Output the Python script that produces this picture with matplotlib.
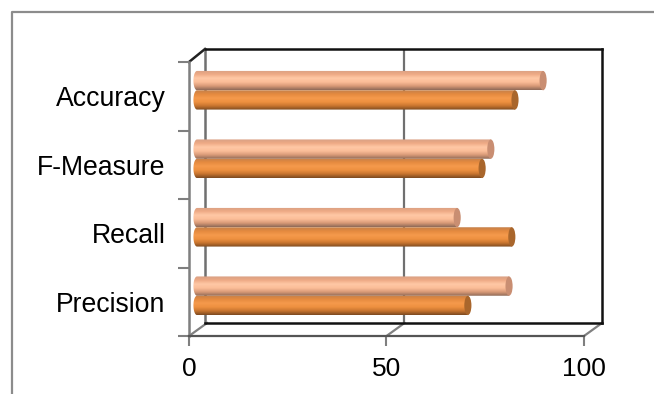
import numpy as np
import matplotlib
matplotlib.use('Agg')
import matplotlib.pyplot as plt
from matplotlib.path import Path
from matplotlib.patches import Ellipse, PathPatch
from matplotlib.colors import LinearSegmentedColormap

categories = ['Precision', 'Recall', 'F-Measure', 'Accuracy']
series_light = [78.8, 65.7, 74.2, 87.4]
series_dark = [68.4, 79.5, 72.0, 80.3]
xticks = [0, 50, 100]

W, H = 654, 394
plt.rcParams['font.family'] = ['Liberation Sans', 'DejaVu Sans']
fig = plt.figure(figsize=(W / 100, H / 100), dpi=100)


def box(x0, y0, x1, y1):
    # pixel box, y measured from the top
    return [x0 / W, 1 - y1 / H, (x1 - x0) / W, (y1 - y0) / H]


# outer frame, only top and left show in the crop
frame = fig.add_axes([0, 0, 1, 1])
frame.set_xlim(0, W)
frame.set_ylim(H, 0)
frame.axis('off')
frame.plot([11.5, 11.5, W], [H, 12, 12], color='#8c8c8c', lw=1.6)

# back wall
wall = fig.add_axes(box(205, 49, 602, 323))
wall.set_xlim(0, 100)
wall.set_ylim(0, 4)
wall.patch.set_alpha(0)
wall.set_xticks([])
wall.set_yticks([])
for s in wall.spines.values():
    s.set_linewidth(1.8)
    s.set_color('#111111')
wall.spines['left'].set_color('#707070')
wall.axvline(50, color='#707070', lw=1.6)

# front plane with the tick labels
front = fig.add_axes(box(189, 62, 584, 336))
front.set_xlim(0, 100)
front.set_ylim(0, 4)
front.patch.set_alpha(0)
for s in ['top', 'right']:
    front.spines[s].set_visible(False)
front.spines['left'].set_color('#7f7f7f')
front.spines['left'].set_linewidth(1.8)
front.spines['bottom'].set_color('#555555')
front.spines['bottom'].set_linewidth(1.6)
front.set_xticks(xticks)
front.set_yticks(np.arange(0, 5))
front.set_yticklabels([])
front.set_yticks(np.arange(len(categories)) + 0.5, minor=True)
front.set_yticklabels(categories, minor=True)
front.tick_params(axis='x', length=7, width=1.5, color='#7f7f7f', labelsize=19, pad=8)
front.tick_params(axis='y', length=8, width=1.5, color='#7f7f7f')
front.tick_params(axis='y', which='minor', length=0, labelsize=19.2, pad=17)

# side wall and floor depth lines
frame.plot([189, 205], [62, 49], color='#222222', lw=1.8)
for v in xticks:
    px = 189 + v * (584 - 189) / 100
    frame.plot([px, px + 18], [336, 323], color='#808080', lw=1.6)

# bars sit half way through the depth
bars = fig.add_axes(box(197, 56, 593, 330))
bars.set_xlim(0, 100)
bars.set_ylim(0, 4)
bars.axis('off')

light_cm = LinearSegmentedColormap.from_list('l', ['#8f6a58', '#d99a78', '#fbbd98', '#ffc8a5', '#eeaa85', '#d8a084'])
dark_cm = LinearSegmentedColormap.from_list('d', ['#7c4a20', '#c7742f', '#ee9040', '#f59a4c', '#e58a3f', '#c4804a'])
grad = np.linspace(0, 1, 64).reshape(-1, 1)
bar_h = 0.282
cap = 0.9  # half width of the end ellipse in x units


def cylinder(y, value, cm, capcolor):
    y0, y1 = y, y + bar_h
    t = np.linspace(np.pi / 2, 3 * np.pi / 2, 30)
    xs = np.r_[value, cap * np.cos(t), value, value]
    ys = np.r_[y1, (y0 + y1) / 2 + bar_h / 2 * np.sin(t), y0, y1]
    outline = Path(np.c_[xs, ys])
    patch = PathPatch(outline, fc='none', ec='none', transform=bars.transData, clip_on=False)
    bars.add_patch(patch)
    im = bars.imshow(grad, cmap=cm, aspect='auto', origin='lower',
                     extent=[-cap, value + cap, y0, y1], zorder=2)
    im.set_clip_box(fig.bbox)
    im.set_clip_path(patch)
    bars.add_patch(Ellipse((value, (y0 + y1) / 2), 2 * cap, bar_h, fc=capcolor, ec='none', zorder=3))


for i in range(len(categories)):
    cylinder(i + 0.5, series_light[i], light_cm, '#c98e72')
    cylinder(i + 0.5 - bar_h, series_dark[i], dark_cm, '#a9662c')

bars.set_xlim(0, 100)
bars.set_ylim(0, 4)

fig.savefig('out.png', dpi=100)
